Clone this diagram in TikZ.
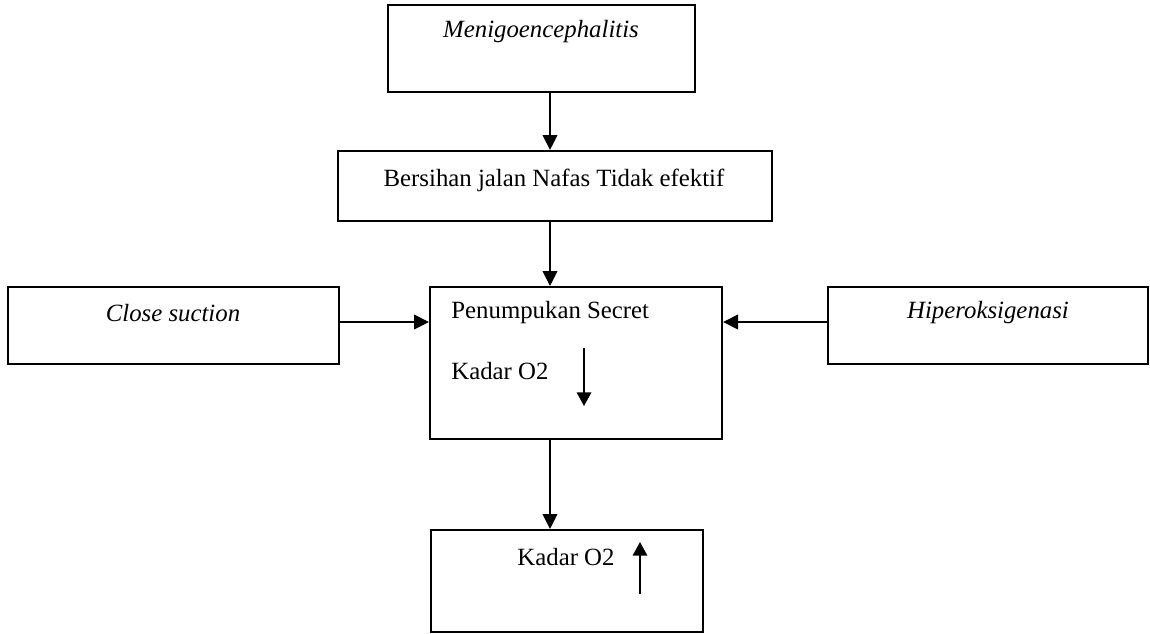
\documentclass[tikz,border=0pt]{standalone}
\usepackage{fontspec}
\setmainfont{Liberation Serif}
\usetikzlibrary{arrows.meta}
\usetikzlibrary{calc}

\begin{document}
\begin{tikzpicture}[x=0.5pt, y=-0.5pt,
    box/.style={draw, line width=1pt, inner sep=0pt},
    txt/.style={font=\fontsize{12.4}{14}\selectfont, inner sep=0pt},
    conn/.style={line width=0.9pt, -{Triangle[length=7.5pt, width=7.3pt]}},
    pfeil/.style={line width=0.9pt, -{Triangle[length=6.8pt, width=7.2pt]}}]

    \useasboundingbox (0,0) rectangle (1150,633);

    % boxes
    \node[box, minimum width=153.5pt, minimum height=43.5pt] (mening) at (541.5,48.5) {};
    \node[box, minimum width=217pt, minimum height=35pt] (bersihan) at (555,186) {};
    \node[box, minimum width=165.5pt, minimum height=38.5pt] (suction) at (173.5,325.5) {};
    \node[box, minimum width=146pt, minimum height=76pt] (secret) at (576,363) {};
    \node[box, minimum width=160pt, minimum height=38.5pt] (hiper) at (988,325.5) {};
    \node[box, minimum width=136pt, minimum height=51pt] (kadar) at (567,581) {};

    % texts
    \node[txt] (tmening) at (541,32) {\textit{Menigoencephalitis}};
    \node[txt] (tbersihan) at (554,180) {Bersihan jalan Nafas Tidak efektif};
    \node[txt] (tsuction) at (173,313) {\textit{Close suction}};
    \node[txt] (thiper) at (988,313) {\textit{Hiperoksigenasi}};
    \node[txt, anchor=west] (tsecret) at (451,313) {Penumpukan Secret};
    \node[txt, anchor=west] (tkadar1) at (451,371) {Kadar O2};
    \node[txt] (tkadar2) at (566,557) {Kadar O2};

    % connectors
    \coordinate (spine) at (550,0);
    \coordinate (midrow) at (0,322);
    \draw[conn] (mening.south -| spine) -- (bersihan.north -| spine);
    \draw[conn] (bersihan.south -| spine) -- (secret.north -| spine);
    \draw[conn] (secret.south -| spine) -- (kadar.north -| spine);
    \draw[conn] (suction.east |- midrow) -- (secret.west |- midrow);
    \draw[conn] (hiper.west |- midrow) -- (secret.east |- midrow);

    % small arrows
    \coordinate (down1) at (584,348);
    \coordinate (down2) at (584,406);
    \coordinate (up1) at (640,594);
    \coordinate (up2) at (640,542);
    \draw[pfeil] (down1) -- (down2);
    \draw[pfeil] (up1) -- (up2);

\end{tikzpicture}
\end{document}
